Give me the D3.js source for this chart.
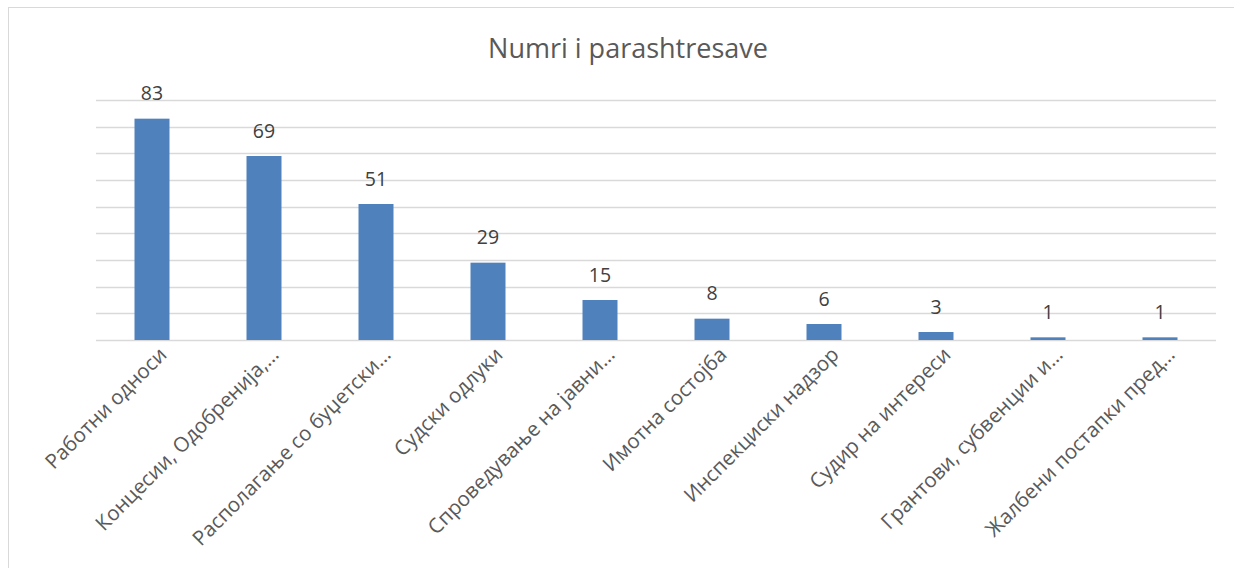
<!DOCTYPE html>
<html><head><meta charset="utf-8">
<script src="https://cdn.jsdelivr.net/npm/d3@7"></script>
<style>body{margin:0;background:#fff;} svg{display:block;}</style>
</head><body>
<script>
const categories = ["Работни односи","Концесии, Одобренија,…","Располагање со буџетски…","Судски одлуки","Спроведување на јавни…","Имотна состојба","Инспекциски надзор","Судир на интереси","Грантови, субвенции и…","Жалбени постапки пред…"];
const values = [83,69,51,29,15,8,6,3,1,1];
const yTicks = [0,10,20,30,40,50,60,70,80,90];
const title = "Numri i parashtresave";

const W=1234,H=568;
const svg=d3.select("body").append("svg").attr("width",W).attr("height",H);
svg.append("rect").attr("x",8.5).attr("y",7.5).attr("width",1240).attr("height",600).attr("fill","#fff").attr("stroke","#d9d9d9");

const x=d3.scaleBand().domain(categories).range([96,1216]).paddingInner(0.6875).paddingOuter(0.34375);
const y=d3.scaleLinear().domain([0,90]).range([340,100]);

svg.append("g").selectAll("line").data(yTicks).join("line")
 .attr("x1",96).attr("x2",1216).attr("y1",d=>Math.round(y(d))+0.5).attr("y2",d=>Math.round(y(d))+0.5)
 .attr("stroke","#d9d9d9").attr("stroke-width",1.3);

svg.append("g").selectAll("rect").data(values).join("rect")
 .attr("x",(d,i)=>x(categories[i])).attr("width",x.bandwidth())
 .attr("y",d=>y(d)).attr("height",d=>y(0)-y(d)).attr("fill","#4f81bd");

svg.append("g").selectAll("text").data(values).join("text")
 .attr("x",(d,i)=>x(categories[i])+x.bandwidth()/2).attr("y",d=>y(d)-18.5)
 .attr("text-anchor","middle").attr("font-family","Open Sans, sans-serif").attr("font-size",19.5)
 .attr("fill","#404040").text(d=>d);

const xAxis=svg.append("g").attr("transform","translate(0,340)").call(d3.axisBottom(x).tickSize(0).tickPadding(0));
xAxis.select(".domain").remove();
xAxis.selectAll("text").attr("font-family","Open Sans, sans-serif").attr("font-size",20.5).attr("fill","#595959")
 .attr("text-anchor","end").attr("dy",0).attr("y",0)
 .attr("transform","translate(16,16) rotate(-45)");

svg.append("text").attr("x",628).attr("y",58).attr("text-anchor","middle")
 .attr("font-family","Open Sans, sans-serif").attr("font-size",27).attr("fill","#595959").text(title);
</script>
</body></html>
